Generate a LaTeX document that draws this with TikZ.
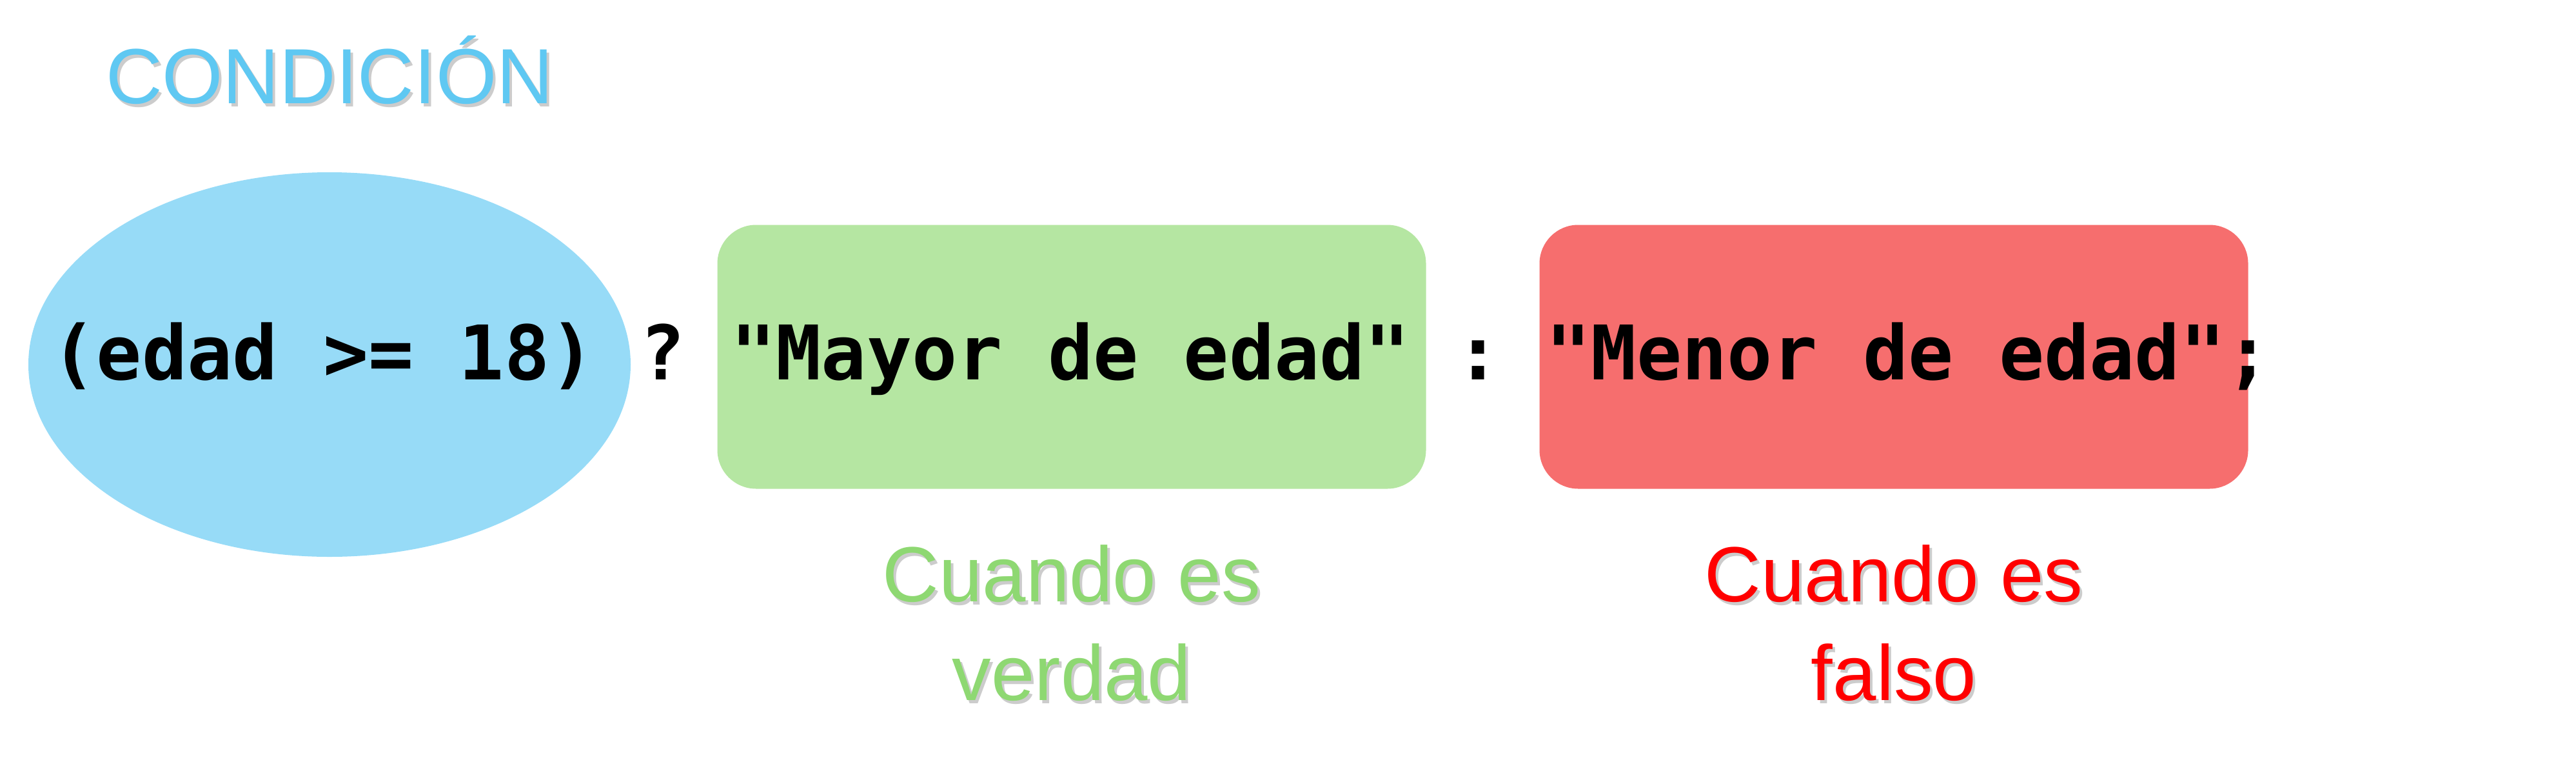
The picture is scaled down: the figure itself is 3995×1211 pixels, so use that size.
\documentclass[tikz,border=0pt]{standalone}
\usepackage{fontspec}
\setmainfont{Liberation Sans}
\setmonofont{DejaVu Sans Mono}
\usetikzlibrary{shapes.geometric}
\definecolor{condblue}{HTML}{97DBF7}
\definecolor{condtext}{HTML}{5FC8F2}
\definecolor{trueback}{HTML}{B5E6A2}
\definecolor{truetext}{HTML}{8ED872}
\definecolor{falseback}{HTML}{F66E6E}
\definecolor{falsetext}{HTML}{FF0000}
\tikzset{
  label font/.style={font=\fontsize{34.5}{43.5}\selectfont, inner sep=0pt, align=center},
  shade text/.style={label font, text=black!40, opacity=0.5},
  code font/.style={font=\fontsize{33.2}{40}\selectfont\ttfamily\bfseries, inner sep=0pt},
  case box/.style={rectangle, rounded corners=0.6cm, minimum width=10.99cm, minimum height=4.09cm, inner sep=0pt}
}
\begin{document}
\begin{tikzpicture}[x=0.1mm, y=-0.1mm]
    \useasboundingbox (0,0) rectangle (3995,1211);
    %Condition
    \node[ellipse, fill=condblue, minimum width=9.34cm, minimum height=5.96cm, inner sep=0pt] (cond) at (511,565) {};
    \node[shade text, anchor=base] (condsh) at (515,165) {CONDICIÓN};
    \node[label font, anchor=base, text=condtext] (condlbl) at (511,160) {CONDICIÓN};
    %True / false values
    \node[case box, fill=trueback] (verdad) at (1662,553) {};
    \node[case box, fill=falseback] (falso) at (2937,553) {};
    %Code line
    \node[code font, anchor=base west] (code) at (79,588) {(edad >= 18) ? "Mayor de edad" : "Menor de edad";};
    %Labels (base = last line)
    \node[shade text, anchor=base] (verdadsh) at (1666,1090) {Cuando es\\verdad};
    \node[label font, anchor=base, text=truetext] (verdadlbl) at (1662,1085) {Cuando es\\verdad};
    \node[shade text, anchor=base] (falsosh) at (2941,1090) {Cuando es\\falso};
    \node[label font, anchor=base, text=falsetext] (falsolbl) at (2937,1085) {Cuando es\\falso};
\end{tikzpicture}
\end{document}
